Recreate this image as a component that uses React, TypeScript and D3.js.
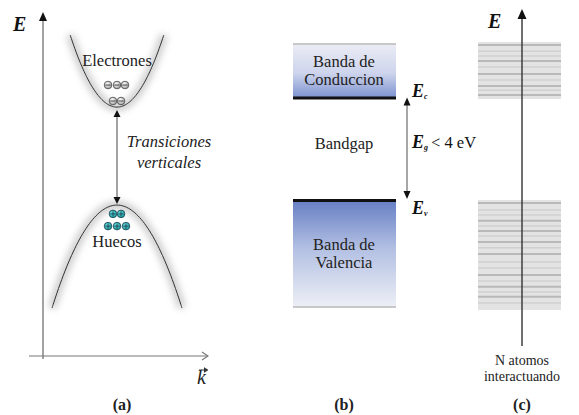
import React from 'react';
import * as d3 from 'd3';

const W = 579;
const H = 415;

// ---------- data ----------
const panelLabels = ['(a)', '(b)', '(c)'];
// panel (a): parabolic bands E(k) = vertex + curv * k^2
const condBand = { vertex: 7.32, curv: 4.09, kMax: 0.72 };
const valBand = { vertex: 4.44, curv: -3.03, kMax: 1.0 };
const electrons = [
  { k: -0.138, E: 7.97 }, { k: 0, E: 7.97 }, { k: 0.123, E: 7.97 },
  { k: -0.062, E: 7.5 }, { k: 0.062, E: 7.5 },
];
const holes = [
  { k: -0.062, E: 4.18 }, { k: 0.062, E: 4.18 },
  { k: -0.138, E: 3.82 }, { k: 0, E: 3.82 }, { k: 0.138, E: 3.82 },
];
// panel (b): band edges in eV
const condEdges = [4, 6.16];
const valEdges = [-4.24, 0];
// panel (c): discrete levels (eV) and their shade
const topLevelsDark = [6.08, 5.45, 4.94, 4.47, 4.12];
const topLevelsMid = [5.84, 5.65, 5.22, 4.71, 4.31];
const botLevelsDark = [-0.12, -0.82, -1.22, -1.65, -2.12, -2.94, -3.41, -3.8];
const botLevelsMid = [-0.39, -0.59, -1.02, -1.41, -1.88, -2.43, -2.67, -3.18, -3.61, -4.04];
const cTopBand = [3.96, 6.2];
const cBotBand = [-4.32, 0];

const SERIF = "'Liberation Serif', 'DejaVu Serif', serif";

export default function App() {
  const xK = d3.scaleLinear().domain([-1, 1]).range([52, 182]);
  const yE = d3.scaleLinear().domain([0, 10]).range([356, 16]);
  const yB = d3.scaleLinear().domain([-4.24, 6.16]).range([308, 43]);
  const xB = d3.scaleLinear().domain([0, 1]).range([293, 396]);
  const xC = d3.scaleLinear().domain([0, 1]).range([478, 561]);

  const line = d3.line<[number, number]>().x(d => xK(d[0])).y(d => yE(d[1])).curve(d3.curveBasis);
  const band = (b: { vertex: number; curv: number; kMax: number }) =>
    line(d3.range(-b.kMax, b.kMax + 1e-6, b.kMax / 40).map(k => [k, b.vertex + b.curv * k * k] as [number, number])) || '';
  const condPath = band(condBand);
  const valPath = band(valBand);

  const tri = (x: number, tipY: number, dir: number, h = 8, w = 4) =>
    `M${x},${tipY} L${x - w},${tipY + dir * h} L${x + w},${tipY + dir * h} Z`;

  const axX = 43;
  const axY = yE(0);
  const kx = xK(0);
  const tf = { fontFamily: SERIF };

  return (
    <svg width={W} height={H} style={{ position: 'absolute', left: 0, top: 0, background: '#fff', fontFamily: SERIF }}>
      <defs>
        <filter id="glow" x="-30%" y="-30%" width="160%" height="160%">
          <feGaussianBlur stdDeviation="3.5" />
        </filter>
        <linearGradient id="condGrad" x1="0" y1="0" x2="0" y2="1">
          <stop offset="0" stopColor="#ecedf5" />
          <stop offset="0.55" stopColor="#cdd4ec" />
          <stop offset="1" stopColor="#7b91cf" />
        </linearGradient>
        <linearGradient id="valGrad" x1="0" y1="0" x2="0" y2="1">
          <stop offset="0" stopColor="#667fc4" />
          <stop offset="0.45" stopColor="#b3c0e3" />
          <stop offset="1" stopColor="#eef0f6" />
        </linearGradient>
        <radialGradient id="eGrad" cx="0.4" cy="0.35" r="0.7">
          <stop offset="0" stopColor="#ffffff" />
          <stop offset="1" stopColor="#9a9a9a" />
        </radialGradient>
        <radialGradient id="hGrad" cx="0.4" cy="0.35" r="0.7">
          <stop offset="0" stopColor="#6fe3e3" />
          <stop offset="1" stopColor="#0f9c9f" />
        </radialGradient>
      </defs>

      {/* ---------- panel (a) ---------- */}
      <line x1={axX} x2={axX} y1={axY + 3} y2={20} stroke="#666" strokeWidth={1.2} />
      <path d={tri(axX, 12, 1, 9, 4)} fill="#111" />
      <line x1={29} x2={208} y1={axY} y2={axY} stroke="#777" strokeWidth={1.2} />
      <path d={`M${202},${axY - 4} L${208},${axY} L${202},${axY + 4}`} fill="none" stroke="#777" strokeWidth={1.1} />
      <text style={tf} x={13} y={31} fontSize={20} fontWeight="bold" fontStyle="italic" fill="#111">E</text>
      <text style={tf} x={197} y={384} fontSize={20} fontStyle="italic" fill="#222">k</text>
      <line x1={199} x2={207} y1={370} y2={370} stroke="#333" strokeWidth={1} />
      <path d="M204,367.5 L208,370 L204,372.5" fill="#333" stroke="#333" strokeWidth={0.6} />

      <path d={condPath} fill="none" stroke="#aaaaaa" strokeWidth={8} opacity={0.6} filter="url(#glow)" />
      <path d={valPath} fill="none" stroke="#aaaaaa" strokeWidth={8} opacity={0.6} filter="url(#glow)" />
      <path d={condPath} fill="none" stroke="#333" strokeWidth={1} />
      <path d={valPath} fill="none" stroke="#333" strokeWidth={1} />

      <line x1={kx} x2={kx} y1={yE(condBand.vertex) + 10} y2={yE(valBand.vertex) - 8} stroke="#666" strokeWidth={1.2} />
      <path d={tri(kx, yE(condBand.vertex) + 3, 1, 7, 3.5)} fill="#111" />
      <path d={tri(kx, yE(valBand.vertex) - 1, -1, 7, 3.5)} fill="#111" />

      <text style={tf} x={kx} y={66} fontSize={16.5} textAnchor="middle" fill="#222">Electrones</text>
      <text style={tf} x={169} y={147} fontSize={16.5} fontStyle="italic" textAnchor="middle" fill="#222">Transiciones</text>
      <text style={tf} x={169} y={168} fontSize={16.5} fontStyle="italic" textAnchor="middle" fill="#222">verticales</text>
      <text style={tf} x={kx} y={247} fontSize={16.5} textAnchor="middle" fill="#222">Huecos</text>

      {electrons.map((d, i) => (
        <g key={'e' + i} transform={`translate(${xK(d.k)},${yE(d.E)})`}>
          <circle r={3.8} fill="url(#eGrad)" stroke="#444" strokeWidth={0.8} />
          <line x1={-2.6} x2={2.6} y1={0} y2={0} stroke="#333" strokeWidth={0.9} />
        </g>
      ))}
      {holes.map((d, i) => (
        <g key={'h' + i} transform={`translate(${xK(d.k)},${yE(d.E)})`}>
          <circle r={3.8} fill="url(#hGrad)" stroke="#1d3b4a" strokeWidth={0.8} />
          <line x1={-2.6} x2={2.6} y1={0} y2={0} stroke="#1d3b4a" strokeWidth={0.9} />
          <line x1={0} x2={0} y1={-2.6} y2={2.6} stroke="#1d3b4a" strokeWidth={0.9} />
        </g>
      ))}

      {/* ---------- panel (b) ---------- */}
      <rect x={xB(0)} y={yB(condEdges[1])} width={xB(1) - xB(0)} height={yB(condEdges[0]) - yB(condEdges[1])} fill="url(#condGrad)" />
      <line x1={xB(0)} x2={xB(1)} y1={yB(condEdges[1]) + 1} y2={yB(condEdges[1]) + 1} stroke="#c8c8c8" strokeWidth={2} />
      <line x1={xB(0)} x2={xB(1)} y1={yB(condEdges[0])} y2={yB(condEdges[0])} stroke="#111" strokeWidth={3} />

      <rect x={xB(0)} y={yB(valEdges[1])} width={xB(1) - xB(0)} height={yB(valEdges[0]) - yB(valEdges[1])} fill="url(#valGrad)" />
      <line x1={xB(0)} x2={xB(1)} y1={yB(valEdges[1]) + 0.5} y2={yB(valEdges[1]) + 0.5} stroke="#111" strokeWidth={3} />
      <line x1={xB(0)} x2={xB(1)} y1={yB(valEdges[0]) - 1} y2={yB(valEdges[0]) - 1} stroke="#c8c8c8" strokeWidth={2} />

      <text style={tf} x={344} y={67} fontSize={16.5} textAnchor="middle" fill="#222">Banda de</text>
      <text style={tf} x={344} y={85} fontSize={16.5} textAnchor="middle" fill="#222">Conduccion</text>
      <text style={tf} x={344} y={149} fontSize={16.5} textAnchor="middle" fill="#222">Bandgap</text>
      <text style={tf} x={344} y={250} fontSize={16.5} textAnchor="middle" fill="#222">Banda de</text>
      <text style={tf} x={344} y={268} fontSize={16.5} textAnchor="middle" fill="#222">Valencia</text>

      <line x1={407} x2={407} y1={yB(condEdges[0]) + 6} y2={yB(valEdges[1]) - 6} stroke="#777" strokeWidth={1.3} />
      <path d={tri(407, yB(condEdges[0]) - 0.5, 1, 8, 3.5)} fill="#111" />
      <path d={tri(407, yB(valEdges[1]) - 1, -1, 8, 3.5)} fill="#111" />

      <text style={tf} x={412} y={97} fill="#111">
        <tspan fontSize={18} fontWeight="bold" fontStyle="italic">E</tspan>
        <tspan fontSize={8} fontWeight="bold" fontStyle="italic" dy={2}>c</tspan>
      </text>
      <text style={tf} x={412} y={148} fill="#111">
        <tspan fontSize={18} fontWeight="bold" fontStyle="italic">E</tspan>
        <tspan fontSize={8} fontWeight="bold" fontStyle="italic" dy={2}>g</tspan>
        <tspan fontSize={16.5} dy={-2} dx={3}>{'< 4 eV'}</tspan>
      </text>
      <text style={tf} x={412} y={214} fill="#111">
        <tspan fontSize={18} fontWeight="bold" fontStyle="italic">E</tspan>
        <tspan fontSize={8} fontWeight="bold" fontStyle="italic" dy={2}>v</tspan>
      </text>

      {/* ---------- panel (c) ---------- */}
      {[[cTopBand, topLevelsDark, topLevelsMid], [cBotBand, botLevelsDark, botLevelsMid]].map((g, gi) => {
        const [b, dark, mid] = g as [number[], number[], number[]];
        return (
          <g key={'c' + gi}>
            <rect x={xC(0)} y={yB(b[1])} width={xC(1) - xC(0)} height={yB(b[0]) - yB(b[1])} fill="#e3e3e3" />
            {mid.map((e, i) => (
              <line key={'m' + i} x1={xC(0)} x2={xC(1)} y1={yB(e)} y2={yB(e)} stroke="#d0d0d0" strokeWidth={1.5} />
            ))}
            {dark.map((e, i) => (
              <line key={'d' + i} x1={xC(0)} x2={xC(1)} y1={yB(e)} y2={yB(e)} stroke="#b9b9b9" strokeWidth={2} />
            ))}
          </g>
        );
      })}
      <line x1={522} x2={522} y1={346} y2={18} stroke="#333" strokeWidth={1.4} />
      <path d={tri(522, 9, 1, 10, 4.5)} fill="#111" />
      <text style={tf} x={488} y={28} fontSize={20} fontWeight="bold" fontStyle="italic" fill="#111">E</text>
      <text style={tf} x={522} y={365} fontSize={14} textAnchor="middle" fill="#222">N atomos</text>
      <text style={tf} x={522} y={381} fontSize={14} textAnchor="middle" fill="#222">interactuando</text>

      {/* panel labels */}
      {panelLabels.map((t, i) => (
        <text style={tf} key={t} x={[122, 344, 522][i]} y={410} fontSize={16} fontWeight="bold" textAnchor="middle" fill="#222">{t}</text>
      ))}
    </svg>
  );
}
